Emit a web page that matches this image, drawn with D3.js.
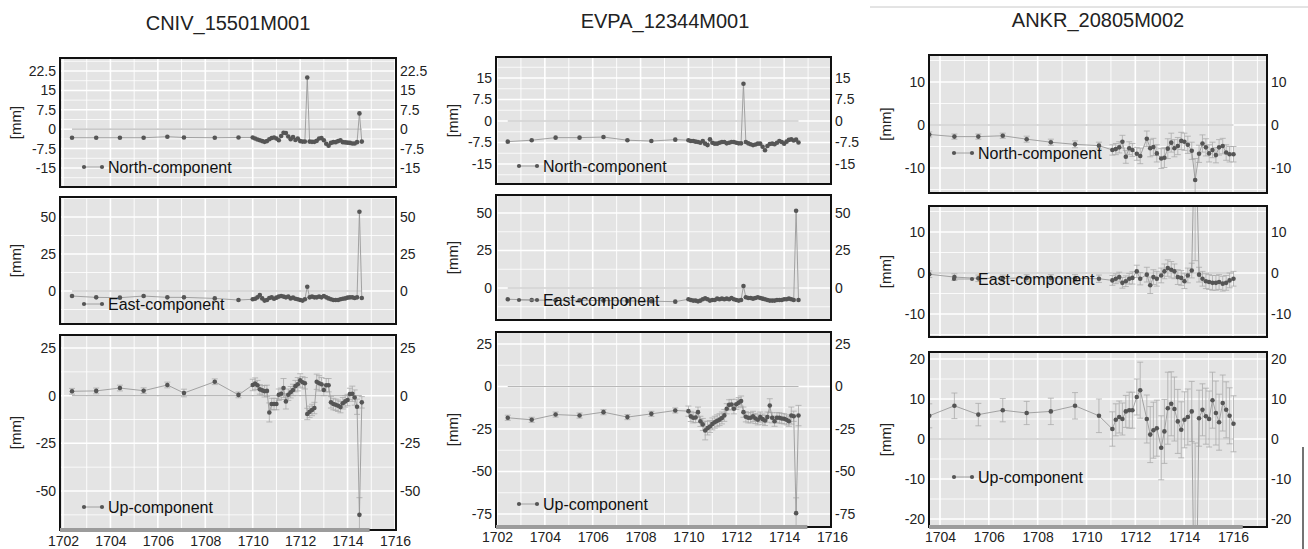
<!DOCTYPE html>
<meta charset="utf-8">
<style>
    body {
        margin: 0;
        background: white;
    }

    svg text {
        font-family: "Liberation Sans", Arial, sans-serif;
        fill: #222;
    }

    .tick text {
        font-size: 14px;
    }

    .title {
        font-size: 20px;
    }

    .legend-text {
        font-size: 16px;
        fill: #111;
    }

    .unit {
        font-size: 15px;
    }
</style>

<body>
    <svg id="chart" width="1308" height="549"></svg>
    <script src="https://d3js.org/d3.v7.min.js"></script>
    <script>

        // ---- data ----
        const cnivDates = [1702.38, 1703.4, 1704.4, 1705.4, 1706.4, 1707.1, 1708.4, 1709.4,
            1710.0, 1710.1, 1710.2, 1710.3, 1710.4, 1710.5, 1710.6, 1710.7, 1710.8, 1710.9,
            1711.0, 1711.1, 1711.2, 1711.3, 1711.4, 1711.5, 1711.6, 1711.7, 1711.8, 1711.9,
            1712.0, 1712.1, 1712.2, 1712.3, 1712.4, 1712.5, 1712.6, 1712.7, 1712.8, 1712.9,
            1713.0, 1713.1, 1713.2, 1713.3, 1713.4, 1713.5, 1713.6, 1713.7, 1713.8, 1713.9,
            1714.0, 1714.1, 1714.2, 1714.3, 1714.4, 1714.5, 1714.6];
        const cnivNorth = [-3.3, -3.3, -3.3, -3.3, -2.9, -3.2, -3.3, -3.2,
            -3.2, -3.6, -4.0, -4.3, -4.6, -4.9, -4.6, -3.9, -3.4, -3.2,
            -3.6, -4.3, -2.6, -1.4, -1.5, -2.8, -3.9, -3.0, -4.2, -3.6,
            -4.6, -4.8, -4.8, 20.0, -4.8, -4.9, -4.9, -4.5, -3.6, -3.4,
            -4.3, -5.6, -6.4, -5.3, -5.0, -5.0, -4.6, -4.3, -5.0, -5.1,
            -5.2, -5.3, -5.5, -5.5, -5.0, 6.1, -4.8];
        const cnivEast = [-3.4, -4.3, -4.5, -3.4, -4.3, -4.3, -5.0, -6.1,
            -5.6, -5.2, -4.3, -2.7, -5.0, -6.5, -6.1, -4.7, -4.3, -5.2,
            -4.5, -3.8, -3.4, -3.8, -4.3, -3.8, -5.0, -4.5, -5.2, -5.6,
            -6.1, -6.5, -5.6, 2.9, -4.3, -3.8, -4.3, -4.3, -3.8, -4.3,
            -3.4, -4.3, -5.0, -5.6, -6.1, -6.1, -6.1, -5.6, -5.2, -5.0,
            -4.5, -4.3, -4.3, -4.7, -4.3, 53.5, -4.7];
        const cnivUp = [2.3, 2.5, 4.0, 2.6, 5.6, 1.4, 7.3, 0.4,
            5.6, 6.3, 5.5, 3.3, 2.8, 2.3, 2.5, -8.8, -4.4, -4.4,
            -4.4, 0.5, 1.0, 4.0, -3.0, 0.5, 1.8, 3.0, 5.0, 6.0,
            8.0, 7.0, 6.5, -9.6, -8.5, -7.5, -6.5, 7.3, 6.5, 6.0,
            3.0, 5.5, 5.5, -3.5, -4.4, -4.8, -5.3, -6.0, -4.0, -3.0,
            -2.3, 0.9, 1.0, -1.0, -5.8, -62.5, -3.5];
        const cnivUpErr = [1.5, 1.5, 1.5, 1.5, 1.5, 2, 1.5, 1.5,
            3, 3, 2.5, 2.5, 2.5, 3, 3, 5, 3, 3,
            3, 3, 3, 5, 4, 3, 3, 3, 3, 3.5,
            3.5, 3, 3, 3, 3, 3, 3, 4, 4, 3.5,
            3, 3.5, 3.5, 3, 3, 3, 3, 3, 3, 3,
            3, 3, 4, 4, 4, 9, 3];

        const evpaDates = [1702.45, 1703.45, 1704.45, 1705.45, 1706.45, 1707.45, 1708.45, 1709.45,
            1710.0, 1710.1, 1710.2, 1710.3, 1710.4, 1710.5, 1710.6, 1710.7, 1710.8, 1710.9,
            1711.0, 1711.1, 1711.2, 1711.3, 1711.4, 1711.5, 1711.6, 1711.7, 1711.8, 1711.9,
            1712.0, 1712.1, 1712.2, 1712.3, 1712.4, 1712.5, 1712.6, 1712.7, 1712.8, 1712.9,
            1713.0, 1713.1, 1713.2, 1713.3, 1713.4, 1713.5, 1713.6, 1713.7, 1713.8, 1713.9,
            1714.0, 1714.1, 1714.2, 1714.3, 1714.4, 1714.5, 1714.6];
        const evpaNorth = [-7.2, -6.7, -5.8, -5.8, -5.6, -6.7, -7.0, -6.5,
            -6.7, -7.0, -7.0, -7.2, -7.3, -7.6, -7.0, -7.9, -8.4, -6.4,
            -7.6, -7.9, -7.9, -7.6, -7.3, -7.3, -7.8, -7.6, -7.3, -7.3,
            -7.6, -7.8, -7.8, 13.0, -7.3, -7.8, -8.1, -8.4, -8.2, -7.9,
            -7.9, -9.0, -10.2, -8.7, -8.0, -7.9, -8.1, -7.6, -7.0, -7.3,
            -7.9, -7.2, -6.6, -6.4, -6.8, -6.5, -7.5];
        const evpaEast = [-7.5, -8.0, -8.2, -8.2, -8.4, -8.6, -8.8, -9.1,
            -7.5, -8.0, -8.4, -8.4, -8.9, -8.4, -7.5, -6.9, -7.5, -8.4,
            -8.0, -8.0, -7.1, -7.5, -7.1, -7.5, -7.1, -7.5, -6.7, -7.5,
            -8.0, -8.4, -8.0, 1.3, -6.2, -6.7, -6.7, -7.1, -6.7, -6.2,
            -6.7, -7.1, -7.5, -8.0, -8.4, -8.4, -8.4, -8.0, -8.0, -8.0,
            -7.5, -7.5, -7.1, -7.5, -8.0, 51.5, -8.0];
        const evpaUp = [-18.4, -19.6, -16.5, -17.1, -15.1, -18.0, -16.1, -14.1,
            -14.5, -17.6, -18.4, -18.2, -15.1, -20.5, -22.3, -25.9, -24.5, -23.5,
            -22.0, -21.0, -20.2, -19.5, -18.5, -17.0, -13.1, -10.8, -10.6, -13.1,
            -10.5, -9.5, -8.6, -15.1, -17.8, -18.4, -18.4, -17.6, -18.8, -19.6,
            -18.0, -19.2, -20.0, -18.0, -11.2, -18.4, -20.4, -18.4, -18.4, -18.8,
            -19.0, -19.6, -20.4, -17.1, -17.5, -74.5, -17.1];
        const evpaUpErr = [1.5, 1.5, 1.5, 1.5, 1.5, 1.5, 1.5, 1.5,
            3, 3, 3, 3, 3, 3, 3.5, 5.5, 4, 3.5,
            3.5, 3.5, 3.5, 3.5, 3.5, 3.5, 3, 3, 3, 3,
            3, 3, 3, 3, 3, 3, 3, 3, 3, 3,
            3, 3, 3, 3, 4, 3, 3, 3, 3, 3,
            3, 3, 3, 5, 3, 9, 6];

        const ankrDates = [1703.56, 1704.59, 1705.57, 1706.57, 1707.55, 1708.54, 1709.53, 1710.51,
            1711.06, 1711.20, 1711.34, 1711.47, 1711.61, 1711.75, 1711.88,
            1712.06, 1712.20, 1712.47, 1712.61, 1712.74, 1712.88,
            1713.06, 1713.19, 1713.33, 1713.47, 1713.60, 1713.74, 1713.88,
            1714.01, 1714.15, 1714.31, 1714.45, 1714.61, 1714.75, 1714.89,
            1715.02, 1715.16, 1715.30, 1715.43, 1715.58, 1715.72, 1715.86, 1716.02];
        const ankrNorth = [-2.2, -2.7, -2.7, -2.5, -3.3, -4.0, -4.5, -4.8,
            -5.8, -5.6, -5.2, -3.9, -7.4, -5.4, -5.8,
            -6.7, -7.2, -3.2, -5.4, -5.1, -6.6,
            -7.8, -7.6, -5.5, -4.1, -5.4, -4.9, -3.7,
            -3.9, -4.6, -6.0, -12.8, -6.7, -4.3, -5.2,
            -6.6, -5.8, -7.0, -5.2, -4.9, -6.4, -6.8, -6.8];
        const ankrNorthErr = [0.6, 0.6, 0.6, 0.6, 0.7, 0.7, 0.8, 0.8,
            1.2, 1.3, 1.3, 1.5, 1.5, 1.5, 1.5,
            1.5, 1.8, 1.8, 2.0, 2.0, 2.0,
            2.3, 2.3, 2.3, 2.2, 2.0, 2.0, 2.0,
            2.0, 2.0, 2.0, 5.0, 2.0, 2.0, 2.0,
            2.0, 1.8, 1.8, 1.8, 1.8, 1.8, 1.8, 1.8];
        const ankrEast = [-0.3, -1.0, -1.3, -1.3, -1.2, -1.2, -1.3, -1.4,
            -1.8, -1.4, -1.0, -2.4, -2.0, -1.4, -1.2,
            0.4, -1.4, -0.4, -3.0, -1.0, -1.4,
            -0.6, 0.4, 1.2, 0.8, 0.4, -1.0, -1.2,
            -2.0, -0.6, 0.6, 40.0, -0.4, -1.4, -2.0,
            -2.2, -2.4, -2.4, -2.2, -2.6, -2.4, -1.8, -1.4];
        const ankrEastErr = [0.8, 0.8, 0.8, 0.8, 0.8, 0.8, 0.9, 0.9,
            1.2, 1.2, 1.2, 1.3, 1.3, 1.3, 1.5,
            1.5, 1.5, 1.8, 2.0, 1.8, 1.8,
            1.8, 1.8, 2.0, 2.0, 1.8, 1.8, 1.8,
            1.8, 1.8, 1.8, 37.0, 1.8, 1.8, 1.8,
            1.8, 1.8, 1.8, 1.8, 1.8, 1.8, 1.8, 1.8];
        const ankrUp = [5.8, 8.3, 6.1, 7.2, 6.5, 6.9, 8.3, 5.8,
            2.5, 4.8, 5.5, 5.0, 6.9, 7.2, 7.2,
            10.5, 12.2, 5.0, 1.1, 2.2, 2.7,
            -2.2, 1.9, 7.7, 8.8, 7.5, 4.4, 2.3,
            4.8, 5.5, 6.9, -60.0, 5.2, 7.3, 5.7,
            5.0, 9.7, 6.5, 4.2, 9.0, 7.3, 5.8, 3.8];
        const ankrUpErr = [3.0, 3.2, 2.8, 2.9, 2.9, 3.3, 3.3, 4.2,
            4.3, 4.0, 4.0, 4.0, 4.0, 4.5, 4.5,
            4.5, 7.0, 6.0, 7.0, 7.0, 7.0,
            8.0, 8.0, 9.0, 8.0, 8.0, 8.0, 7.0,
            7.0, 7.0, 7.5, 59.0, 7.0, 6.5, 7.0,
            7.0, 7.0, 8.0, 7.0, 7.0, 7.0, 7.0, 7.0];

        const componentNames = ["North-component", "East-component", "Up-component"];
        const cnivTicks = [[-15, -7.5, 0, 7.5, 15, 22.5], [0, 25, 50], [-50, -25, 0, 25]];
        const evpaTicks = [[-15, -7.5, 0, 7.5, 15], [0, 25, 50], [-75, -50, -25, 0, 25]];
        const ankrTicks = [[-10, 0, 10], [-10, 0, 10], [-20, -10, 0, 10, 20]];
        const weekTicksA = [1702, 1704, 1706, 1708, 1710, 1712, 1714, 1716];
        const weekTicksB = [1704, 1706, 1708, 1710, 1712, 1714, 1716];

        // ---- layout ----
        const columns = [
            {
                title: "CNIV_15501M001", titleX: 228, titleY: 30,
                left: 60, right: 396, xDomain: [1702, 1716], xRange: [63, 395], xTicks: weekTicksA,
                mmX: 15, legendX: 84, xPad: 6, barEnd: 1714.93,
                dates: cnivDates,
                series: [[cnivNorth, null], [cnivEast, null], [cnivUp, cnivUpErr]],
                ticks: cnivTicks,
                panels: [
                    { top: 58, bottom: 187, yDomain: [-15, 22.5], yRange: [168, 71], legendY: 167 },
                    { top: 197, bottom: 324, yDomain: [0, 50], yRange: [291, 217], legendY: 304 },
                    { top: 335, bottom: 530, yDomain: [-50, 25], yRange: [491, 348], legendY: 507 }
                ]
            },
            {
                title: "EVPA_12344M001", titleX: 665, titleY: 28,
                left: 496, right: 831, xDomain: [1702, 1716], xRange: [497, 832], xTicks: weekTicksA,
                mmX: 452, legendX: 519, xPad: 5, barEnd: 1714.97,
                dates: evpaDates,
                series: [[evpaNorth, null], [evpaEast, null], [evpaUp, evpaUpErr]],
                ticks: evpaTicks,
                panels: [
                    { top: 57, bottom: 184, yDomain: [-15, 15], yRange: [164, 78], legendY: 166 },
                    { top: 195, bottom: 320, yDomain: [0, 50], yRange: [288, 213], legendY: 300 },
                    { top: 332, bottom: 527, yDomain: [-75, 25], yRange: [514, 344], legendY: 504 }
                ]
            },
            {
                title: "ANKR_20805M002", titleX: 1098, titleY: 27,
                left: 929, right: 1267, xDomain: [1704, 1716], xRange: [940, 1233], xTicks: weekTicksB,
                mmX: 885, legendX: 954, xPad: 5, barEnd: 1716.4,
                dates: ankrDates,
                series: [[ankrNorth, ankrNorthErr], [ankrEast, ankrEastErr], [ankrUp, ankrUpErr]],
                ticks: ankrTicks,
                panels: [
                    { top: 55, bottom: 193, yDomain: [-10, 10], yRange: [168, 82], legendY: 153 },
                    { top: 206, bottom: 337, yDomain: [-10, 10], yRange: [314, 232], legendY: 279 },
                    { top: 352, bottom: 527, yDomain: [-20, 20], yRange: [519, 359], legendY: 477 }
                ]
            }
        ];

        const svg = d3.select("#chart");
        let clipId = 0;

        function drawPanel(col, k) {
            const p = col.panels[k];
            const values = col.series[k][0];
            const errs = col.series[k][1];
            const ticks = col.ticks[k];
            const x = d3.scaleLinear().domain(col.xDomain).range(col.xRange);
            const y = d3.scaleLinear().domain(p.yDomain).range(p.yRange);
            const w = col.right - col.left, h = p.bottom - p.top;
            const g = svg.append("g");

            g.append("rect")
                .attr("x", col.left).attr("y", p.top)
                .attr("width", w).attr("height", h)
                .attr("fill", "#e4e4e4");

            const id = "clip" + (clipId++);
            g.append("clipPath").attr("id", id)
                .append("rect")
                .attr("x", col.left).attr("y", p.top)
                .attr("width", w).attr("height", h);
            const inner = g.append("g").attr("clip-path", "url(#" + id + ")");

            // vertical grid, one line per week unit
            const xs = d3.range(Math.ceil(x.invert(col.left)), x.invert(col.right), 1);
            inner.selectAll("line.vgrid").data(xs).join("line")
                .attr("class", "vgrid")
                .attr("x1", d => x(d)).attr("x2", d => x(d))
                .attr("y1", p.top).attr("y2", p.bottom)
                .attr("stroke", "white")
                .attr("stroke-width", d => d % 2 === 0 ? 1.6 : 0.9);

            // horizontal grid at ticks and half ticks
            const step = ticks[1] - ticks[0];
            const lo = y.invert(p.bottom), hi = y.invert(p.top);
            const hs = d3.range(Math.ceil(lo / (step / 2)) * (step / 2), hi, step / 2);
            inner.selectAll("line.hgrid").data(hs).join("line")
                .attr("class", "hgrid")
                .attr("x1", col.left).attr("x2", col.right)
                .attr("y1", d => y(d)).attr("y2", d => y(d))
                .attr("stroke", "white")
                .attr("stroke-width", d => ticks.some(t => Math.abs(t - d) < 1e-6) ? 1.5 : 0.8);

            // zero reference
            inner.append("line")
                .attr("x1", x(col.dates[0])).attr("x2", x(col.dates[col.dates.length - 1]))
                .attr("y1", y(0)).attr("y2", y(0))
                .attr("stroke", "#b8b8b8").attr("stroke-width", 1.2);

            const pts = col.dates.map((d, i) => ({ t: d, v: values[i], e: errs ? errs[i] : 0 }));

            // error bars
            if (errs) {
                const eb = inner.selectAll("g.err").data(pts).join("g").attr("class", "err")
                    .attr("stroke", "#ababab").attr("stroke-width", 0.8);
                eb.append("line")
                    .attr("x1", d => x(d.t)).attr("x2", d => x(d.t))
                    .attr("y1", d => y(d.v - d.e)).attr("y2", d => y(d.v + d.e));
                eb.append("line")
                    .attr("x1", d => x(d.t) - 3).attr("x2", d => x(d.t) + 3)
                    .attr("y1", d => y(d.v - d.e)).attr("y2", d => y(d.v - d.e));
                eb.append("line")
                    .attr("x1", d => x(d.t) - 3).attr("x2", d => x(d.t) + 3)
                    .attr("y1", d => y(d.v + d.e)).attr("y2", d => y(d.v + d.e));
            }

            inner.append("path")
                .datum(pts)
                .attr("fill", "none")
                .attr("stroke", "#9a9a9a")
                .attr("stroke-width", 0.9)
                .attr("d", d3.line().x(d => x(d.t)).y(d => y(d.v)));

            inner.selectAll("circle").data(pts).join("circle")
                .attr("cx", d => x(d.t)).attr("cy", d => y(d.v))
                .attr("r", 2.3)
                .attr("fill", "#555");

            // legend
            const lg = g.append("g");
            lg.append("line")
                .attr("x1", col.legendX).attr("x2", col.legendX + 18)
                .attr("y1", p.legendY).attr("y2", p.legendY)
                .attr("stroke", "#9a9a9a").attr("stroke-width", 0.9);
            lg.selectAll("circle").data([0, 18]).join("circle")
                .attr("cx", d => col.legendX + d).attr("cy", p.legendY)
                .attr("r", 2.1).attr("fill", "#555");
            lg.append("text")
                .attr("class", "legend-text")
                .attr("x", col.legendX + 24).attr("y", p.legendY + 6)
                .text(componentNames[k]);

            // frame
            g.append("rect")
                .attr("x", col.left).attr("y", p.top)
                .attr("width", w).attr("height", h)
                .attr("fill", "none").attr("stroke", "#111").attr("stroke-width", 2);

            // y axes both sides
            const fmt = d => String(d);
            const la = g.append("g").attr("transform", `translate(${col.left},0)`)
                .call(d3.axisLeft(y).tickValues(ticks).tickSize(0).tickPadding(4).tickFormat(fmt));
            const ra = g.append("g").attr("transform", `translate(${col.right},0)`)
                .call(d3.axisRight(y).tickValues(ticks).tickSize(0).tickPadding(4).tickFormat(fmt));
            [la, ra].forEach(a => {
                a.select(".domain").remove();
                a.selectAll("text").attr("fill", "#333").style("font-family", '"Liberation Sans", Arial, sans-serif');
            });

            g.append("text")
                .attr("class", "unit")
                .attr("text-anchor", "middle")
                .attr("dominant-baseline", "central")
                .attr("transform", `translate(${col.mmX},${(p.top + p.bottom) / 2}) rotate(-90)`)
                .text("[mm]");

            if (k === 2) {
                g.append("rect")
                    .attr("x", col.left).attr("y", p.bottom - 2)
                    .attr("width", x(col.barEnd) - col.left).attr("height", 4)
                    .attr("fill", "#9c9c9c");
                const xa = g.append("g").attr("transform", `translate(0,${p.bottom})`)
                    .call(d3.axisBottom(x).tickValues(col.xTicks).tickSize(0).tickPadding(col.xPad).tickFormat(d => d));
                xa.select(".domain").remove();
                xa.selectAll("text").attr("fill", "#333").style("font-family", '"Liberation Sans", Arial, sans-serif');
            }
        }

        columns.forEach(col => {
            svg.append("text")
                .attr("class", "title")
                .attr("x", col.titleX).attr("y", col.titleY)
                .attr("text-anchor", "middle")
                .text(col.title);
            col.panels.forEach((p, k) => drawPanel(col, k));
        });

        // stray page edges in the right column
        svg.append("line").attr("x1", 870).attr("x2", 1308).attr("y1", 7).attr("y2", 7)
            .attr("stroke", "#c8c8c8").attr("stroke-width", 1);
        svg.append("line").attr("x1", 1303).attr("x2", 1303).attr("y1", 447).attr("y2", 549)
            .attr("stroke", "#444").attr("stroke-width", 1.5);
    </script>
</body>

</html>
